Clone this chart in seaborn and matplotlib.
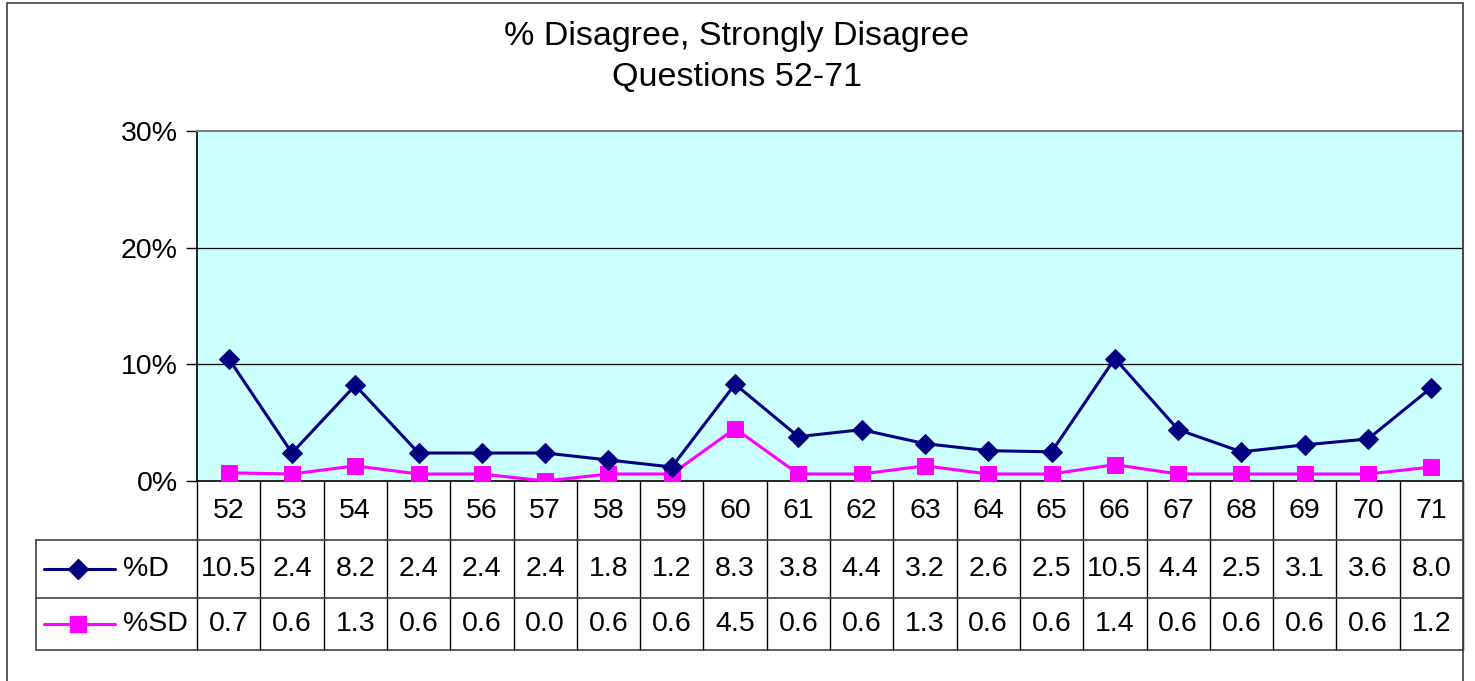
import matplotlib
matplotlib.use("Agg")
import matplotlib.pyplot as plt
import seaborn as sns
import pandas as pd
from matplotlib.patches import Rectangle
from matplotlib.lines import Line2D

# =========================
# DADOS
# =========================

questions = [str(q) for q in range(52, 72)]
pct_d = [10.5, 2.4, 8.2, 2.4, 2.4, 2.4, 1.8, 1.2, 8.3, 3.8,
         4.4, 3.2, 2.6, 2.5, 10.5, 4.4, 2.5, 3.1, 3.6, 8.0]
pct_sd = [0.7, 0.6, 1.3, 0.6, 0.6, 0.0, 0.6, 0.6, 4.5, 0.6,
          0.6, 1.3, 0.6, 0.6, 1.4, 0.6, 0.6, 0.6, 0.6, 1.2]
series_names = ["%D", "%SD"]
y_ticks = [0, 10, 20, 30]

title = "% Disagree, Strongly Disagree\nQuestions 52-71"

# =========================
# ESTILO
# =========================

sns.set_style("white")
plt.rcParams["font.family"] = ["Liberation Sans", "DejaVu Sans"]
plt.rcParams["text.color"] = "black"
plt.rcParams["ytick.color"] = "black"

W, H = 1475, 681
fig = plt.figure(figsize=(W / 100, H / 100), dpi=100)

# moldura do gráfico
fig.patches.append(Rectangle((7 / W, -0.01), (1463 - 7) / W, 1 - 3 / H + 0.01,
                             transform=fig.transFigure, fill=False,
                             edgecolor="#404040", linewidth=1.2))

fig.text(737 / W, 1 - 57 / H, title, ha="center", va="center",
         fontsize=24.5, linespacing=1.45)

# =========================
# ÁREA DO GRÁFICO
# =========================

x0, x1, yt, yb = 197, 1463, 131, 481
ax = fig.add_axes([x0 / W, 1 - yb / H, (x1 - x0) / W, (yb - yt) / H])
ax.set_facecolor("#CCFFFF")

df = pd.DataFrame({
    "pos": list(range(len(questions))) * 2,
    "valor": pct_d + pct_sd,
    "serie": [series_names[0]] * len(questions) + [series_names[1]] * len(questions),
})

cores = {"%D": "#000080", "%SD": "#FF00FF"}
sns.lineplot(data=df[df.serie == "%D"], x="pos", y="valor", color=cores["%D"],
             marker="D", markersize=10, markeredgecolor=cores["%D"],
             linewidth=2.2, ax=ax, legend=False, zorder=4)
sns.lineplot(data=df[df.serie == "%SD"], x="pos", y="valor", color=cores["%SD"],
             marker="s", markersize=12, markeredgecolor=cores["%SD"],
             linewidth=2.2, ax=ax, legend=False, zorder=3)

ax.set_xlim(-0.5, len(questions) - 0.5)
ax.set_ylim(0, 30)
ax.set_yticks(y_ticks)
ax.set_yticklabels([f"{v}%" for v in y_ticks], fontsize=20.5)
ax.set_xticks([])
ax.set_xlabel("")
ax.set_ylabel("")
for v in y_ticks[1:-1]:
    ax.axhline(v, color="black", linewidth=0.9, zorder=1)
ax.tick_params(axis="y", direction="out", length=8, width=1, left=True, pad=6)
for s in ["left", "bottom"]:
    ax.spines[s].set_color("black")
    ax.spines[s].set_linewidth(1.2)
for s in ["top", "right"]:
    ax.spines[s].set_color("#808080")
    ax.spines[s].set_linewidth(1.5)

# =========================
# TABELA DE DADOS
# =========================

cw = (x1 - x0) / len(questions)
tl, tb = 36, 650
tax = fig.add_axes([tl / W, 1 - tb / H, (x1 - tl) / W, (tb - yb) / H])
xmin = -0.5 - (x0 - tl) / cw
tax.set_xlim(xmin, len(questions) - 0.5)
tax.set_ylim(tb - yb, 0)
tax.axis("off")


def px(x):
    return -0.5 + (x - x0) / cw


r1, r2, r3 = 540 - yb, 598 - yb, tb - yb
lc = "#404040"
for k in range(len(questions) + 1):
    tax.plot([k - 0.5, k - 0.5], [0, r3], color="black", lw=1, clip_on=False)
tax.plot([xmin, xmin], [r1, r3], color=lc, lw=1.2, clip_on=False)
for yy in (r1, r2, r3):
    tax.plot([xmin, len(questions) - 0.5], [yy, yy], color=lc, lw=1.2, clip_on=False)

fs = 20.5
for i, q in enumerate(questions):
    tax.text(i, (0 + r1) / 2, q, ha="center", va="center", fontsize=fs)
    tax.text(i, (r1 + r2) / 2, f"{pct_d[i]:.1f}", ha="center", va="center", fontsize=fs)
    tax.text(i, (r2 + r3) / 2, f"{pct_sd[i]:.1f}", ha="center", va="center", fontsize=fs)

# legenda dentro da tabela
leg = [("%D", "D", 10, (r1 + r2) / 2), ("%SD", "s", 12, (r2 + r3) / 2)]
for nome, mk, ms, yy in leg:
    tax.add_line(Line2D([px(44), px(115)], [yy, yy], color=cores[nome], lw=2.2))
    tax.add_line(Line2D([px(78)], [yy], marker=mk, markersize=ms,
                        color=cores[nome], markeredgecolor=cores[nome]))
    tax.text(px(123), yy, nome, ha="left", va="center", fontsize=fs)

fig.savefig("out.png", dpi=100)
